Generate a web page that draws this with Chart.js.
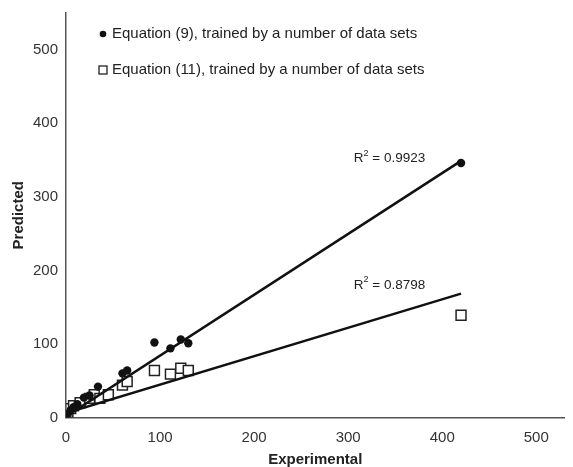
<!DOCTYPE html>
<html>
<head>
<meta charset="utf-8">
<script src="https://cdn.jsdelivr.net/npm/chart.js@4.4.0/dist/chart.umd.min.js"></script>
<style>
  html, body { margin: 0; padding: 0; background: #fff; }
  #wrap { width: 573px; height: 467px; }
</style>
</head>
<body>
<div id="wrap"><canvas id="chart"></canvas></div>
<script>
// Equation (9) points (filled circles)
let eq9X = [0, 2, 5, 8, 12, 19, 25, 34, 60, 65, 94, 111, 122, 130, 420];
let eq9Y = [2, 5, 10, 14, 18, 27, 30, 42, 60, 64, 102, 94, 106, 101, 346];

// Equation (11) points (open squares)
let eq11X = [0, 2, 5, 8, 15, 25, 30, 36, 45, 60, 65, 94, 111, 122, 130, 420];
let eq11Y = [3, 7, 12, 16, 20, 26, 31, 26, 31, 44, 49, 64, 59, 67, 64, 139];

// trend lines
let trendX = [0, 420];
let trend9Y = [1.5, 349];
let trend11Y = [6, 168.5];

let legendLabels = ['Equation (9), trained by a number of data sets', 'Equation (11), trained by a number of data sets'];
let r2Labels = ['0.9923', '0.8798'];
let r2X = [344, 344];
let r2Y = [352, 180];

let xTicks = [0, 100, 200, 300, 400, 500];
let yTicks = [0, 100, 200, 300, 400, 500];

function toPoints(xs, ys) {
    return xs.map((x, i) => ({ x: x, y: ys[i] }));
}

const font = 'Liberation Sans, Arial, sans-serif';

// legend + R² labels drawn inside the plot area
const overlay = {
    id: 'overlay',
    afterDraw(chart) {
        let ctx = chart.ctx;
        let xs = chart.scales.x, ys = chart.scales.y;
        ctx.save();
        ctx.textBaseline = 'middle';

        // legend
        ctx.beginPath();
        ctx.arc(103, 34, 3.3, 0, Math.PI * 2);
        ctx.fillStyle = '#111';
        ctx.fill();
        ctx.strokeStyle = '#222';
        ctx.lineWidth = 1.3;
        ctx.fillStyle = '#fff';
        ctx.fillRect(99, 66, 8, 8);
        ctx.strokeRect(99, 66, 8, 8);
        ctx.fillStyle = '#222';
        ctx.font = '15px ' + font;
        ctx.fillText(legendLabels[0], 112, 34);
        ctx.fillText(legendLabels[1], 112, 70);

        // R² labels
        for (let i = 0; i < r2Labels.length; i++) {
            let px = xs.getPixelForValue(r2X[i]);
            let py = ys.getPixelForValue(r2Y[i]);
            ctx.font = '13.5px ' + font;
            let rest = ' = ' + r2Labels[i];
            let wR = ctx.measureText('R').width;
            let wRest = ctx.measureText(rest).width;
            ctx.font = '9px ' + font;
            let w2 = ctx.measureText('2').width;
            let start = px - (wR + w2 + wRest) / 2;
            ctx.font = '13.5px ' + font;
            ctx.fillText('R', start, py);
            ctx.fillText(rest, start + wR + w2, py);
            ctx.font = '9px ' + font;
            ctx.fillText('2', start + wR, py - 5.5);
        }
        ctx.restore();
    }
};

new Chart(document.getElementById('chart'), {
    type: 'scatter',
    data: {
        datasets: [
            {
                label: 'trend9',
                type: 'line',
                data: toPoints(trendX, trend9Y),
                borderColor: '#111',
                borderWidth: 2.5,
                pointRadius: 0,
                fill: false
            },
            {
                label: 'trend11',
                type: 'line',
                data: toPoints(trendX, trend11Y),
                borderColor: '#111',
                borderWidth: 2.5,
                pointRadius: 0,
                fill: false
            },
            {
                label: legendLabels[0],
                data: toPoints(eq9X, eq9Y),
                pointStyle: 'circle',
                pointRadius: 4.2,
                backgroundColor: '#111',
                borderColor: '#111',
                borderWidth: 0
            },
            {
                label: legendLabels[1],
                data: toPoints(eq11X, eq11Y),
                pointStyle: 'rect',
                pointRadius: 7,
                backgroundColor: '#fff',
                borderColor: '#222',
                borderWidth: 1.5
            }
        ]
    },
    options: {
        responsive: true,
        maintainAspectRatio: false,
        animation: false,
        layout: { padding: { left: 10, right: 0, top: 13, bottom: 0 } },
        plugins: {
            legend: { display: false },
            tooltip: { enabled: false }
        },
        scales: {
            x: {
                type: 'linear',
                min: 0,
                max: 530,
                afterBuildTicks: (axis) => { axis.ticks = xTicks.map(v => ({ value: v })); },
                afterFit: (axis) => { axis.height = 49.5; },
                ticks: { color: '#333', font: { family: font, size: 15 }, padding: 6, includeBounds: false },
                grid: { display: false, drawTicks: true, tickLength: 5, tickColor: '#555' },
                border: { color: '#555', width: 1.5 },
                title: { display: true, text: 'Experimental', color: '#222', font: { family: font, size: 15, weight: 'bold', lineHeight: 1 }, padding: { top: 2, bottom: 0 } }
            },
            y: {
                type: 'linear',
                min: 0,
                max: 550,
                afterBuildTicks: (axis) => { axis.ticks = yTicks.map(v => ({ value: v })); },
                ticks: { color: '#333', font: { family: font, size: 15 }, padding: 3, includeBounds: false },
                grid: { display: false, drawTicks: true, tickLength: 5, tickColor: '#555' },
                border: { color: '#555', width: 1.5 },
                title: { display: true, text: 'Predicted', color: '#222', font: { family: font, size: 15, weight: 'bold' }, padding: { top: 0, bottom: 2 } }
            }
        }
    },
    plugins: [overlay]
});
</script>
</body>
</html>
